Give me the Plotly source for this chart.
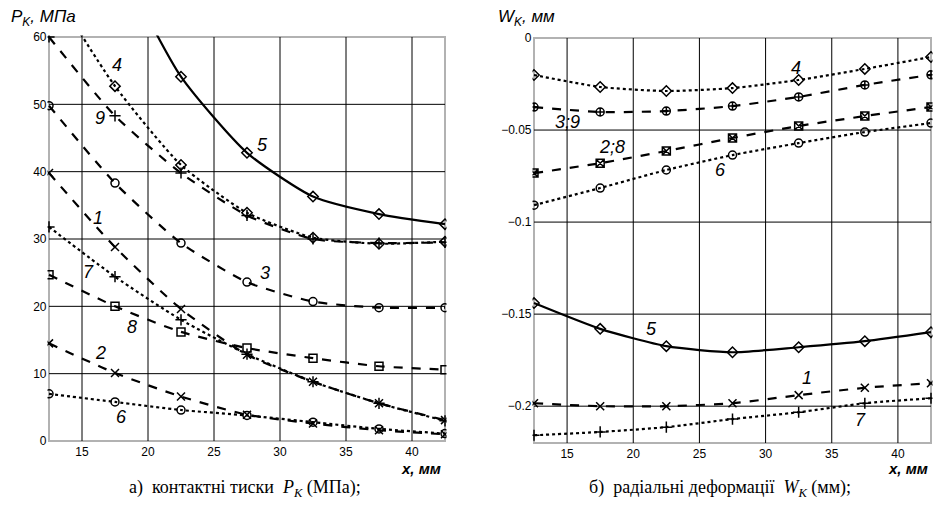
import plotly.graph_objects as go
from plotly.subplots import make_subplots

x_vals = [12.5, 17.5, 22.5, 27.5, 32.5, 37.5, 42.5]

# Left chart: contact pressures P_K (MPa)
p1 = [39.8, 28.8, 19.6, 12.8, 8.8, 5.6, 3.1]
p2 = [14.5, 10.1, 6.6, 3.9, 2.6, 1.6, 1.0]
p3 = [49.8, 38.3, 29.4, 23.6, 20.7, 19.8, 19.8]
p4 = [68.0, 52.7, 41.0, 33.9, 30.2, 29.3, 29.6]
p5 = [95.0, 72.5, 54.1, 42.8, 36.3, 33.7, 32.2]
p6 = [7.0, 5.8, 4.6, 3.8, 2.8, 1.8, 1.1]
p7 = [31.8, 24.4, 18.0, 12.9, 8.8, 5.6, 3.0]
p8 = [24.7, 20.0, 16.2, 13.8, 12.3, 11.1, 10.6]
p9 = [60.0, 48.3, 39.8, 33.5, 30.0, 29.4, 29.5]

# Right chart: radial deformations W_K (mm)
w1 = [-0.1984, -0.200, -0.200, -0.1984, -0.194, -0.190, -0.1875]
w28 = [-0.0734, -0.068, -0.0614, -0.0543, -0.0478, -0.0424, -0.0375]
w39 = [-0.0375, -0.0402, -0.0397, -0.037, -0.032, -0.0255, -0.020]
w4 = [-0.0201, -0.0266, -0.0288, -0.0272, -0.0228, -0.0168, -0.0103]
w5 = [-0.144, -0.158, -0.1674, -0.1707, -0.168, -0.1647, -0.1598]
w6 = [-0.0908, -0.0815, -0.0717, -0.0636, -0.0571, -0.0511, -0.0462]
w7 = [-0.2158, -0.214, -0.2114, -0.207, -0.2033, -0.1984, -0.1957]

x_range = [12.5, 42.5]
left_range = [0, 60]
right_range = [-0.22, 0]
x_ticks = [15, 20, 25, 30, 35, 40]
left_ticks_y = [0, 10, 20, 30, 40, 50, 60]
right_ticks_y = [0, -0.05, -0.1, -0.15, -0.2]
right_tick_text = ["0", "\u22120.05", "\u22120.1", "\u22120.15", "\u22120.2"]

left_labels = [("4", 17.65, 55.9), ("9", 16.4, 48.0), ("5", 28.7, 44.0), ("3", 28.9, 25.0),
               ("1", 16.2, 33.1), ("7", 15.5, 25.1), ("8", 18.8, 17.0), ("2", 16.4, 13.1),
               ("6", 18.0, 3.6)]
right_labels = [("4", 32.3, -0.0163), ("3;9", 15.0, -0.0457), ("2;8", 18.4, -0.0592),
                ("6", 26.6, -0.0717), ("5", 21.4, -0.158), ("1", 33.1, -0.1848),
                ("7", 37.2, -0.2076)]

# the page body has an 8px margin: the figure is 16px smaller and pixel positions are shifted
OFF = 8
W, H = 941 - 2 * OFF, 509 - 2 * OFF
PAD = 1.5  # px of room kept around the frame so the border line is not clipped


def px(x):
    return min(max((x - OFF) / W, 0.0), 1.0)


def py(y):
    return min(max(1 - (y - OFF) / H, 0.0), 1.0)


def padded(rng, p0, p1):
    per_px = (rng[1] - rng[0]) / abs(p1 - p0)
    return [rng[0] - PAD * per_px, rng[1] + PAD * per_px]


fig = make_subplots(rows=1, cols=2)


def add_grid(col, xr, yr, xt, yt, xref, yref):
    gx, gy = [], []
    for t in xt:
        gx += [t, t, None]
        gy += [yr[0], yr[1], None]
    for t in yt:
        if yr[0] < t < yr[1]:
            gx += [xr[0], xr[1], None]
            gy += [t, t, None]
    fig.add_trace(go.Scatter(x=gx, y=gy, mode="lines", line=dict(color="black", width=1),
                             showlegend=False, hoverinfo="skip"), row=1, col=col)
    # frame drawn as a layout shape on the data axes
    fig.add_shape(type="rect", xref=xref, yref=yref, x0=xr[0], x1=xr[1], y0=yr[0], y1=yr[1],
                  line=dict(color="black", width=2), fillcolor="rgba(0,0,0,0)", layer="above")


add_grid(1, x_range, left_range, x_ticks, left_ticks_y, "x", "y")
add_grid(2, x_range, right_range, x_ticks, right_ticks_y, "x2", "y2")


def add(ys, dash, symbol, col, width=2.2, msize=8):
    fig.add_trace(go.Scatter(
        x=x_vals, y=ys, mode="lines+markers",
        line=dict(color="black", width=width, dash=dash, shape="spline", smoothing=0.6),
        marker=dict(symbol=symbol, size=msize, color="black", line=dict(color="black", width=1.5)),
        showlegend=False, hoverinfo="skip"), row=1, col=col)


add(p5, "solid", "diamond-open", 1)
add(p4, "dot", "diamond-open", 1)
add(p9, "dash", "cross-thin-open", 1)
add(p3, "dash", "circle-open", 1)
add(p1, "dash", "x-thin-open", 1)
add(p7, "dot", "cross-thin-open", 1)
add(p8, "dash", "square-open", 1)
add(p2, "dash", "x-thin-open", 1)
add(p6, "dot", "circle-open", 1)

add(w4, "dot", "diamond-open", 2)
add(w39, "dash", "circle-cross-open", 2)
add(w28, "dash", "square-x-open", 2)
add(w6, "dot", "circle-open", 2)
add(w5, "solid", "diamond-open", 2)
add(w1, "dash", "x-thin-open", 2)
add(w7, "dot", "cross-thin-open", 2)

fig.update_layout(
    template="simple_white",
    width=W, height=H, margin=dict(l=0, r=0, t=0, b=0, autoexpand=False),
    paper_bgcolor="white", plot_bgcolor="white",
)

tick_font = dict(family="Liberation Sans Narrow, Liberation Sans, Arial", size=12, color="black")
fig.update_xaxes(showline=False, showgrid=False, zeroline=False, ticks="", automargin=False,
                 tickfont=tick_font, tickvals=x_ticks)
fig.update_yaxes(showline=False, showgrid=False, zeroline=False, ticks="", automargin=False,
                 tickfont=tick_font)

# frame pixel positions (reference picture)
L1, R1, T1, B1 = 49, 445, 37, 441
L2, R2, T2, B2 = 534, 931, 38, 443

fig.update_xaxes(domain=[px(L1 - PAD), px(R1 + PAD)], range=padded(x_range, L1, R1), row=1, col=1)
fig.update_xaxes(domain=[px(L2 - PAD), px(R2 + PAD)], range=padded(x_range, L2, R2), row=1, col=2)
fig.update_yaxes(domain=[py(B1 + PAD), py(T1 - PAD)], range=padded(left_range, T1, B1),
                 tickvals=left_ticks_y, row=1, col=1)
fig.update_yaxes(domain=[py(B2 + PAD), py(T2 - PAD)], range=padded(right_range, T2, B2),
                 tickvals=right_ticks_y, ticktext=right_tick_text, row=1, col=2)

lab_font = dict(family="Liberation Sans, Arial", size=18, color="black")
for t, xx, yy in left_labels:
    fig.add_annotation(x=xx, y=yy, xref="x", yref="y", text="<i>" + t + "</i>",
                       showarrow=False, font=lab_font)
for t, xx, yy in right_labels:
    fig.add_annotation(x=xx, y=yy, xref="x2", yref="y2", text="<i>" + t + "</i>",
                       showarrow=False, font=lab_font)

title_font = dict(family="Liberation Sans, Arial", size=17, color="black")
fig.add_annotation(x=px(8.5), y=py(18), xref="paper", yref="paper", text="<i>P<sub>K</sub>, МПа</i>",
                   showarrow=False, xanchor="left", yanchor="middle", font=title_font)
fig.add_annotation(x=px(496), y=py(18), xref="paper", yref="paper", text="<i>W<sub>K</sub>, мм</i>",
                   showarrow=False, xanchor="left", yanchor="middle", font=title_font)

xl_font = dict(family="Liberation Sans, Arial", size=15, color="black")
fig.add_annotation(x=px(443), y=py(468), xref="paper", yref="paper", text="<b><i>x, мм</i></b>",
                   showarrow=False, xanchor="right", yanchor="middle", font=xl_font)
fig.add_annotation(x=px(930), y=py(468), xref="paper", yref="paper", text="<b><i>x, мм</i></b>",
                   showarrow=False, xanchor="right", yanchor="middle", font=xl_font)

cap_font = dict(family="Liberation Serif, Times New Roman", size=18, color="black")
fig.add_annotation(x=px(245), y=py(488), xref="paper", yref="paper",
                   text="а)  контактні тиски  <i>P<sub>K</sub></i> (МПа);",
                   showarrow=False, xanchor="center", yanchor="middle", font=cap_font)
fig.add_annotation(x=px(720), y=py(488), xref="paper", yref="paper",
                   text="б)  радіальні деформації  <i>W<sub>K</sub></i> (мм);",
                   showarrow=False, xanchor="center", yanchor="middle", font=cap_font)

fig.write_html("out.html")
